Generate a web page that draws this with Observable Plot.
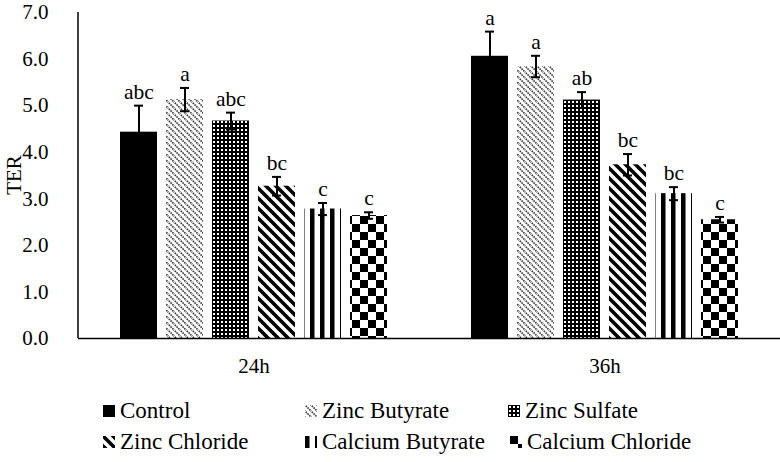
<!DOCTYPE html>
<html><head><meta charset="utf-8">
<script src="https://cdn.jsdelivr.net/npm/d3@7"></script>
<script src="https://cdn.jsdelivr.net/npm/@observablehq/plot@0.6"></script>
<style>
body{margin:0;background:#fff;}
#wrap{position:relative;width:780px;height:462px;font-family:"Liberation Serif",serif;color:#000;}
#wrap > svg.plot{position:absolute;left:0;top:0;}
#wrap svg text{font-family:"Liberation Serif",serif;}
.leg{position:absolute;display:flex;align-items:center;font-size:23px;white-space:nowrap;line-height:1;font-family:"Liberation Serif",serif;}
.leg svg{margin-right:5px;}
</style></head><body>
<svg width="0" height="0" style="position:absolute">
  <defs>
    <pattern id="pZB" patternUnits="userSpaceOnUse" width="6" height="6">
      <rect width="6" height="6" fill="#fff"/>
      <path d="M-1,-1L7,7M-1,5L1,7M5,-1L7,1" stroke="#333" stroke-width="1.6" stroke-dasharray="1.6,0.9"/>
    </pattern>
    <pattern id="pZS" patternUnits="userSpaceOnUse" width="4" height="4">
      <rect width="4" height="4" fill="#000"/>
      <rect x="1" y="1" width="2" height="2" fill="#fff"/>
    </pattern>
    <pattern id="pZC" patternUnits="userSpaceOnUse" width="10" height="10">
      <rect width="10" height="10" fill="#fff"/>
      <path d="M-1,-1L11,11M-4,6L4,14M6,-4L14,4" stroke="#000" stroke-width="3.6"/>
    </pattern>
    <pattern id="pCB" patternUnits="userSpaceOnUse" width="10" height="10">
      <rect width="10" height="10" fill="#fff"/>
      <rect x="0" y="0" width="4.5" height="10" fill="#000"/>
    </pattern>
    <pattern id="pCC" patternUnits="userSpaceOnUse" width="16" height="16">
      <rect width="16" height="16" fill="#fff"/>
      <rect x="0" y="0" width="8" height="8" fill="#000"/>
      <rect x="8" y="8" width="8" height="8" fill="#000"/>
    </pattern>
  </defs>
</svg>
<div id="wrap"></div>
<script>
const groups = ["24h", "36h"];
const treatments = ["Control", "Zinc Butyrate", "Zinc Sulfate", "Zinc Chloride", "Calcium Butyrate", "Calcium Chloride"];
const ter24 = [4.43, 5.13, 4.67, 3.27, 2.78, 2.64];
const err24 = [0.57, 0.25, 0.18, 0.20, 0.13, 0.07];
const ter36 = [6.06, 5.84, 5.12, 3.73, 3.11, 2.55];
const err36 = [0.53, 0.23, 0.17, 0.23, 0.14, 0.06];
const letters24 = ["abc", "a", "abc", "bc", "c", "c"];
const letters36 = ["a", "a", "ab", "bc", "bc", "c"];
const yTicks = [0, 1, 2, 3, 4, 5, 6, 7];

const fills = ["#000", "url(#pZB)", "url(#pZS)", "url(#pZC)", "url(#pCB)", "url(#pCC)"];

const data = [];
treatments.forEach((t, i) => {
  data.push({group: groups[0], treatment: t, ter: ter24[i], err: err24[i], letter: letters24[i]});
  data.push({group: groups[1], treatment: t, ter: ter36[i], err: err36[i], letter: letters36[i]});
});

const plot = Plot.plot({
  width: 780,
  height: 385,
  marginTop: 12,
  marginBottom: 47,
  marginLeft: 78,
  marginRight: 0,
  style: {fontFamily: "Liberation Serif, serif", fontSize: "21px", color: "#000", background: "transparent"},
  fx: {domain: groups, padding: 0, label: null, tickSize: 0, tickPadding: 20, axis: "bottom"},
  x: {domain: treatments, axis: null, paddingInner: 0.19, paddingOuter: 0.83},
  y: {domain: [0, 7], ticks: yTicks, tickFormat: d => d.toFixed(1), label: null, tickSize: 0, tickPadding: 30},
  marks: [
    ...treatments.map((t, i) => Plot.barY(data.filter(d => d.treatment === t), {
      fx: "group", x: "treatment", y: "ter", fill: fills[i]
    })),
    Plot.ruleY([0], {stroke: "#000", strokeWidth: 1.5}),
    Plot.ruleX(data, {fx: "group", x: "treatment", y1: d => d.ter - d.err, y2: d => d.ter + d.err, stroke: "#000", strokeWidth: 2}),
    Plot.tickY(data, {fx: "group", x: "treatment", y: d => d.ter + d.err, insetLeft: 14, insetRight: 14, stroke: "#000", strokeWidth: 2}),
    Plot.tickY(data, {fx: "group", x: "treatment", y: d => d.ter - d.err, insetLeft: 14, insetRight: 14, stroke: "#000", strokeWidth: 2}),
    Plot.text(data, {fx: "group", x: "treatment", y: d => d.ter + d.err, text: "letter", dy: -7, lineAnchor: "bottom", fontSize: 21.5, fill: "#000"})
  ]
});
plot.classList.add("plot");
const wrap = document.getElementById("wrap");
wrap.appendChild(plot);

// y axis line and title
const ys = plot.scale("y");
const svg = d3.select(plot);
svg.append("line")
  .attr("x1", 78).attr("x2", 78)
  .attr("y1", ys.apply(7)).attr("y2", ys.apply(0))
  .attr("stroke", "#000").attr("stroke-width", 1.5);
svg.append("text")
  .attr("transform", `translate(16,${(ys.apply(0) + ys.apply(7)) / 2}) rotate(-90)`)
  .attr("text-anchor", "middle")
  .attr("dominant-baseline", "middle")
  .attr("font-size", 21)
  .attr("fill", "#000")
  .text("TER");

// legend
const legPos = [[103, 410], [305, 410], [508, 410], [103, 441], [305, 441], [510, 441]];
treatments.forEach((t, i) => {
  const div = document.createElement("div");
  div.className = "leg";
  div.style.left = legPos[i][0] + "px";
  div.style.top = (legPos[i][1] - 11) + "px";
  div.innerHTML = `<svg width="12" height="12"><rect width="12" height="12" fill="${fills[i]}"/></svg><span>${t}</span>`;
  wrap.appendChild(div);
});
</script>
</body></html>
